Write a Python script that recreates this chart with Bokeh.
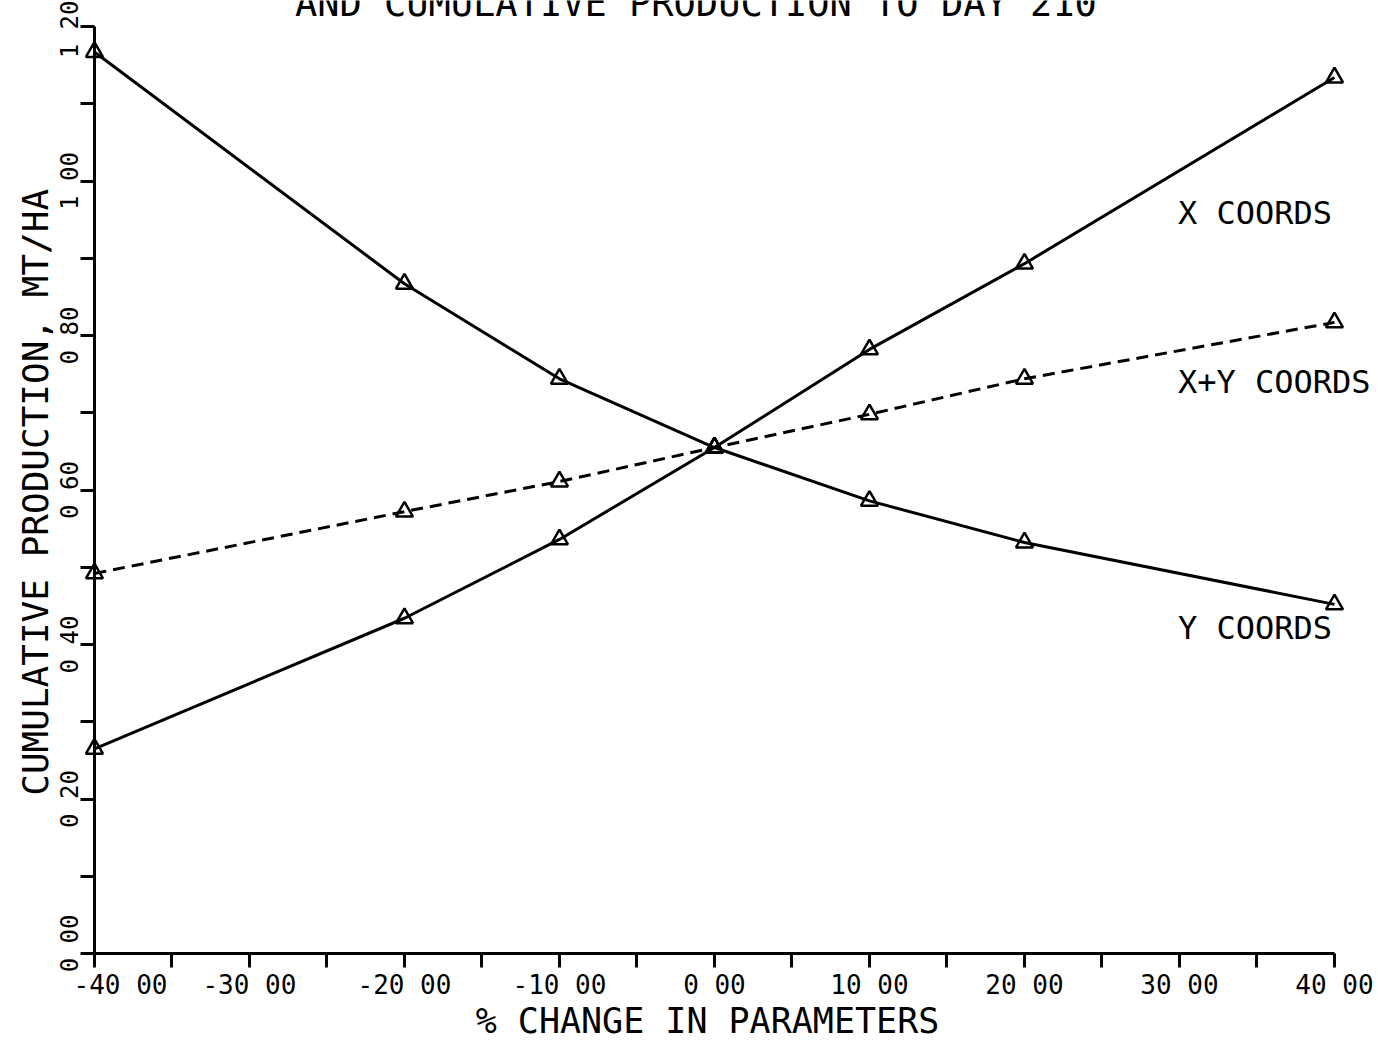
import math
from bokeh.plotting import figure
from bokeh.models import FixedTicker, Label, Range1d
from bokeh.embed import file_html
from bokeh.resources import INLINE

# ---- data ----
pct_change = [-40, -20, -10, 0, 10, 20, 40]
x_coords = [0.265, 0.434, 0.536, 0.655, 0.782, 0.893, 1.134]
y_coords = [1.167, 0.867, 0.744, 0.655, 0.586, 0.532, 0.452]
xy_coords = [0.492, 0.572, 0.611, 0.655, 0.698, 0.744, 0.817]

x_major = [-40, -30, -20, -10, 0, 10, 20, 30, 40]
x_minor = [-35, -25, -15, -5, 5, 15, 25, 35]
x_tick_text = ["-40 00", "-30 00", "-20 00", "-10 00", "0 00",
               "10 00", "20 00", "30 00", "40 00"]
y_major = [0, 0.2, 0.4, 0.6, 0.8, 1.0, 1.2]
y_minor = [0.1, 0.3, 0.5, 0.7, 0.9, 1.1]
y_tick_text = ["0 00", "0 20", "0 40", "0 60", "0 80", "1 00", "1 20"]

title_text = "AND CUMULATIVE PRODUCTION TO DAY 210"
x_title = "% CHANGE IN PARAMETERS"
y_title = "CUMULATIVE PRODUCTION, MT/HA"
series_names = ["X COORDS", "X+Y COORDS", "Y COORDS"]

MONO = "DejaVu Sans Mono"
X_TICK_FONT = "26px"
Y_TICK_FONT = "24px"

# the frame covers the whole canvas; the axes sit at fixed data locations
p = figure(width=1378, height=1042, output_backend="svg", toolbar_location=None,
           x_range=Range1d(-46.06, 42.84), y_range=Range1d(-0.1152, 1.2337),
           min_border_left=0, min_border_right=0, min_border_top=0,
           min_border_bottom=0)
p.outline_line_color = None
p.grid.visible = False
p.background_fill_color = "white"
p.border_fill_color = "white"

# the corner labels (-40 on x, 0 on y) are nudged away from each other,
# as in the original plot, so they are drawn as separate labels
x_overrides = {v: t for v, t in zip(x_major, x_tick_text)}
x_overrides[x_major[0]] = ""
y_overrides = {v: t for v, t in zip(y_major, y_tick_text)}
y_overrides[y_major[0]] = ""

# x axis
xa = p.xaxis[0]
xa.ticker = FixedTicker(ticks=x_major, minor_ticks=x_minor)
xa.major_label_overrides = x_overrides
xa.bounds = (-40, 40)
xa.fixed_location = 0
xa.axis_line_width = 3
xa.axis_line_color = "black"
xa.major_tick_out = 14
xa.major_tick_in = 0
xa.minor_tick_out = 14
xa.minor_tick_in = 0
xa.major_tick_line_width = 3
xa.minor_tick_line_width = 3
xa.major_tick_line_color = "black"
xa.minor_tick_line_color = "black"
xa.major_label_text_font = MONO
xa.major_label_text_font_size = X_TICK_FONT
xa.major_label_text_color = "black"
xa.major_label_standoff = 2

# y axis
ya = p.yaxis[0]
ya.ticker = FixedTicker(ticks=y_major, minor_ticks=y_minor)
ya.major_label_overrides = y_overrides
ya.bounds = (0, 1.2)
ya.fixed_location = -40
ya.axis_line_width = 3
ya.axis_line_color = "black"
ya.major_tick_out = 14
ya.major_tick_in = 0
ya.minor_tick_out = 14
ya.minor_tick_in = 0
ya.major_tick_line_width = 3
ya.minor_tick_line_width = 3
ya.major_tick_line_color = "black"
ya.minor_tick_line_color = "black"
ya.major_label_orientation = "vertical"
ya.major_label_text_font = MONO
ya.major_label_text_font_size = Y_TICK_FONT
ya.major_label_text_color = "black"
ya.major_label_standoff = -4

# corner tick labels
p.add_layout(Label(x=x_major[0] + 1.68, y=-0.0408, text=x_tick_text[0],
                   text_font=MONO, text_font_size=X_TICK_FONT, text_color="black",
                   text_align="center", text_baseline="middle"))
p.add_layout(Label(x=-41.6, y=y_major[0] + 0.013, text=y_tick_text[0],
                   text_font=MONO, text_font_size=Y_TICK_FONT, text_color="black",
                   angle=math.pi / 2, text_align="center", text_baseline="middle"))

# series
p.line(pct_change, x_coords, line_width=3, line_color="black")
p.line(pct_change, y_coords, line_width=3, line_color="black")
p.line(pct_change, xy_coords, line_width=3, line_color="black", line_dash="12 7")
for ys in (x_coords, y_coords, xy_coords):
    p.scatter(pct_change, ys, marker="triangle", size=17, fill_color=None,
              line_color="black", line_width=2.5)

# series labels
for name, yv in zip(series_names, [0.959, 0.740, 0.422]):
    p.add_layout(Label(x=29.9, y=yv, text=name, text_font=MONO,
                       text_font_size="32px", text_color="black",
                       text_align="left", text_baseline="middle"))

# titles
p.add_layout(Label(x=-1.2, y=1.2298, text=title_text, text_font=MONO,
                   text_font_size="37px", text_color="black",
                   text_align="center", text_baseline="alphabetic"))
p.add_layout(Label(x=-0.45, y=-0.0880, text=x_title, text_font=MONO,
                   text_font_size="35px", text_color="black",
                   text_align="center", text_baseline="middle"))
p.add_layout(Label(x=-43.78, y=0.597, text=y_title, text_font=MONO,
                   text_font_size="36px", text_color="black", angle=math.pi / 2,
                   text_align="center", text_baseline="middle"))

open("out.html", "w").write(file_html(p, INLINE))
